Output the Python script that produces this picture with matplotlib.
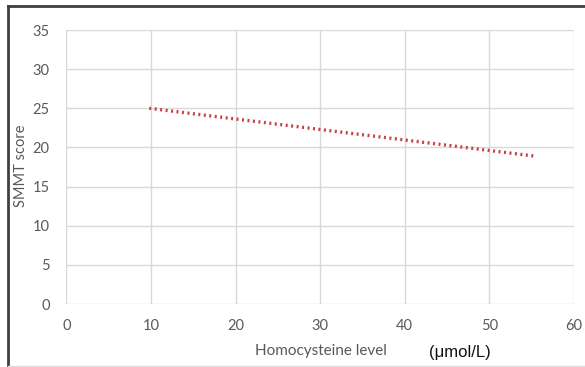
import matplotlib
matplotlib.use("Agg")
import matplotlib.pyplot as plt
from matplotlib.lines import Line2D

# Data (trendline endpoints)
homocysteine = [9.8, 55.3]
smmt_score = [25.0, 18.9]
x_ticks = [0, 10, 20, 30, 40, 50, 60]
y_ticks = [0, 5, 10, 15, 20, 25, 30, 35]

W, H = 585, 367
fig = plt.figure(figsize=(W / 100, H / 100), dpi=100)
ax = fig.add_axes([66.3 / W, 1 - 304 / H, 507.7 / W, 274 / H])

ax.plot(homocysteine, smmt_score, color="#c8413b", linestyle=(0, (0.6, 1.05)),
        linewidth=2.4, dash_capstyle="butt")

ax.set_xlim(0, 60)
ax.set_ylim(0, 35)
ax.set_xticks(x_ticks)
ax.set_yticks(y_ticks)
ax.grid(True, color="#d9d9d9", linewidth=1.0)
ax.set_axisbelow(True)
for s in ax.spines.values():
    s.set_visible(False)
ax.tick_params(length=0, labelsize=10.5, labelcolor="#595959")
for lab in ax.get_xticklabels() + ax.get_yticklabels():
    lab.set_family("Lato")
ax.tick_params(axis="x", pad=11)
ax.tick_params(axis="y", pad=12)

fig.text(21 / W, 1 - 166 / H, "SMMT score", family="Lato", fontsize=10.5,
         color="#595959", ha="center", va="center", rotation=90)
fig.text(321 / W, 1 - 351 / H, "Homocysteine level", family="Lato", fontsize=11,
         color="#595959", ha="center", va="center")
fig.text(429 / W, 1 - 352 / H, "(\u03bcmol/L)", family="Liberation Sans", fontsize=12,
         color="#111111", ha="left", va="center")

# outer frame
fig.add_artist(Line2D([8 / W, 1], [1 - 6 / H, 1 - 6 / H], color="#404040", linewidth=2,
                      transform=fig.transFigure))
fig.add_artist(Line2D([8 / W, 8 / W], [1 - 6 / H, 1 - 366 / H], color="#404040", linewidth=2,
                      transform=fig.transFigure))
fig.add_artist(Line2D([8 / W, 1], [1 - 365.5 / H, 1 - 365.5 / H], color="#e0e0e0", linewidth=1,
                      transform=fig.transFigure))

fig.savefig("out.png", dpi=100)
